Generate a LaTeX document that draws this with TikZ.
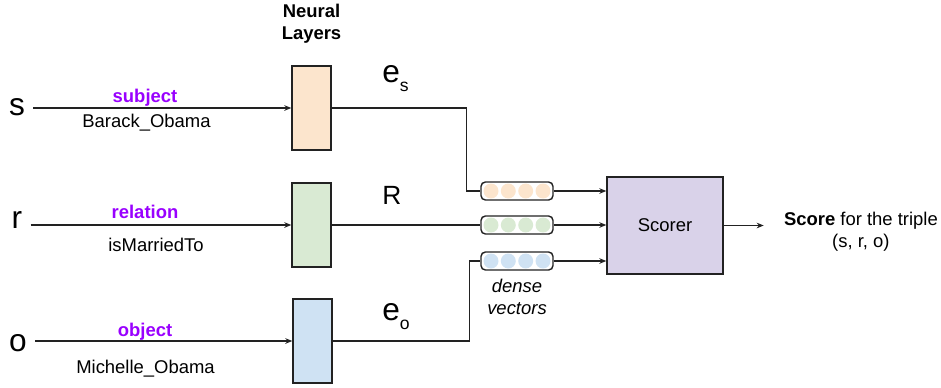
\documentclass[tikz,border=0pt]{standalone}
\usepackage{fontspec}
\setmainfont{Liberation Sans}
\usetikzlibrary{arrows.meta, positioning, calc}
\definecolor{LayerOrange}{HTML}{FCE5CD}
\definecolor{LayerGreen}{HTML}{D9EAD3}
\definecolor{LayerBlue}{HTML}{CFE2F3}
\definecolor{ScorerPurple}{HTML}{D9D2E9}
\definecolor{RoleViolet}{HTML}{9900FF}
\definecolor{EdgeDark}{HTML}{222222}

\begin{document}
\begin{tikzpicture}[x=0.02cm, y=-0.02cm, >={Stealth[length=4pt, width=3.2pt]},
                txt/.style={font=\fontsize{10.5}{12.5}\selectfont, inner sep=0pt},
                head/.style={txt, font=\fontsize{10.5}{12.5}\selectfont\bfseries, align=center},
                big/.style={font=\fontsize{18}{20}\selectfont, inner sep=0pt, anchor=base},
                role/.style={txt, anchor=base, text=RoleViolet, font=\fontsize{10.5}{12.5}\selectfont\bfseries},
                entity/.style={txt, anchor=base},
                layer/.style={rectangle, draw=EdgeDark, line width=0.8pt, minimum width=0.78cm, minimum height=1.68cm, inner sep=0pt},
                vecbox/.style={rectangle, draw=EdgeDark, line width=0.8pt, rounded corners=2.5pt, minimum width=1.44cm, minimum height=0.36cm, inner sep=0pt},
                scorer/.style={rectangle, draw=EdgeDark, line width=0.8pt, fill=ScorerPurple, minimum width=2.32cm, minimum height=1.94cm, txt},
                line/.style={EdgeDark, line width=0.6pt},
                arrow/.style={->, line}]
                \useasboundingbox (0,0) rectangle (941,387);

                \node[big] (s) at (17,115) {s};
                \node[big] (r) at (17,228) {r};
                \node[big] (o) at (18,351) {o};

                \node[layer, fill=LayerOrange] (ls) at (311.5,108) {};
                \node[layer, fill=LayerGreen] (lr) at (311.5,225) {};
                \node[layer, fill=LayerBlue] (lo) at (312.5,341) {};
                \node[head, above=0.44cm of ls] (nl) {Neural\\Layers};

                \node[role] (subj) at (145,102) {subject};
                \node[entity] (barack) at (146.5,127) {Barack\_Obama};
                \node[role] (rel) at (145,218) {relation};
                \node[entity] (married) at (156,251) {isMarriedTo};
                \node[role] (obj) at (145,336) {object};
                \node[entity] (michelle) at (145.5,373) {Michelle\_Obama};

                \node[big, anchor=base west] (es) at (382,82) {e\raisebox{-5.5pt}{\fontsize{10}{10}\selectfont s}};
                \node[big, font=\fontsize{15}{17}\selectfont] (rel-emb) at (392,204) {R};
                \node[big, anchor=base west] (eo) at (382,320) {e\raisebox{-5.5pt}{\fontsize{10}{10}\selectfont o}};

                \node[vecbox] (vs) at (517,191) {};
                \node[vecbox] (vr) at (517,225) {};
                \node[vecbox] (vo) at (517,261) {};
                \foreach \v/\c in {vs/LayerOrange, vr/LayerGreen, vo/LayerBlue}
                    \foreach \dx in {-26,-8.7,8.7,26}
                        \fill[\c] ($(\v)+(\dx,0)$) circle (0.15cm);
                \node[txt, font=\fontsize{10.5}{12.5}\selectfont\itshape, align=center, below=0.17cm of vo] (dense) {dense\\vectors};

                \node[scorer] (sc) at (665,225.5) {Scorer};
                \node[txt, align=center, right=1.2cm of sc, yshift=-0.13cm] (out) {\textbf{Score} for the triple\\(s, r, o)};

                \draw[arrow] ($(s.east |- ls.west)+(8,0)$) -- (ls.west);
                \draw[arrow] ($(r.east |- lr.west)+(8,0)$) -- (lr.west);
                \draw[arrow] ($(o.east |- lo.west)+(8,0)$) -- (lo.west);

                \draw[line] (ls.east) -| ($(vs.west)+(-14,0)$) -- (vs.west);
                \draw[line] (lr.east) -- (vr.west);
                \draw[line] (lo.east) -| ($(vo.west)+(-11,0)$) -- (vo.west);

                \draw[arrow] (vs.east) -- (vs.east -| sc.west);
                \draw[arrow] (vr.east) -- (vr.east -| sc.west);
                \draw[arrow] (vo.east) -- (vo.east -| sc.west);
                \draw[arrow] (sc.east) -- ($(sc.east -| out.west)+(-20,0)$);
            \end{tikzpicture}
\end{document}
